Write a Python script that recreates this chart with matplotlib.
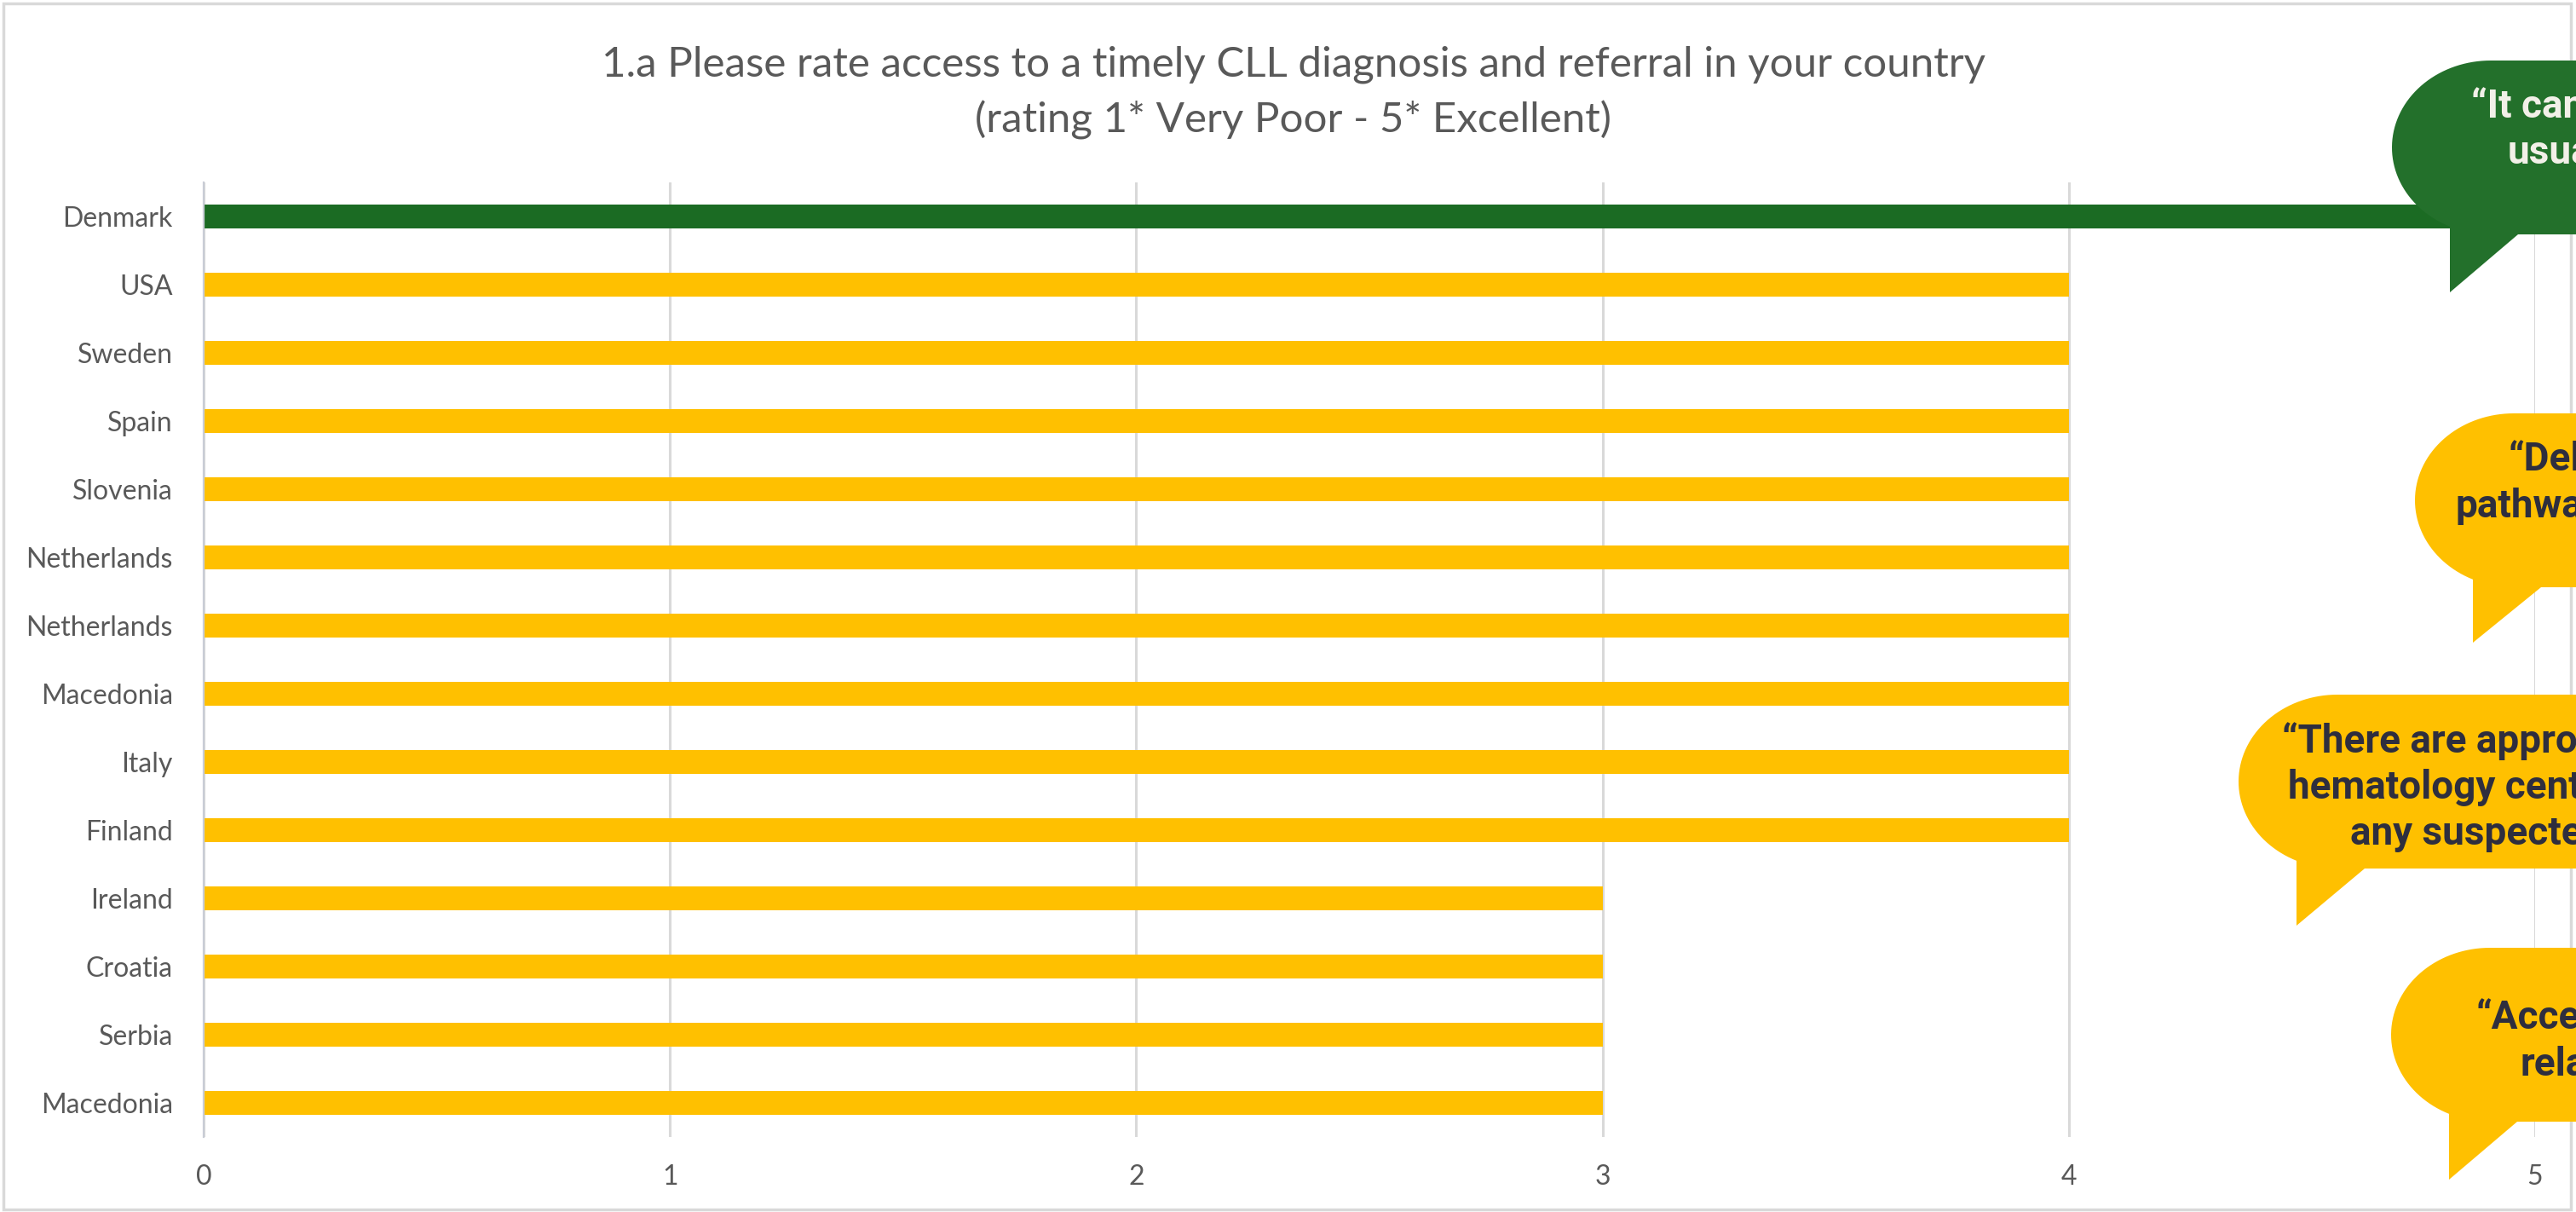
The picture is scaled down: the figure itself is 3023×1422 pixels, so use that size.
import numpy as np
import matplotlib.pyplot as plt
from matplotlib.path import Path
from matplotlib.patches import PathPatch, Rectangle

# Survey answers, top row first
countries = ["Denmark", "USA", "Sweden", "Spain", "Slovenia", "Netherlands",
             "Netherlands", "Macedonia", "Italy", "Finland", "Ireland",
             "Croatia", "Serbia", "Macedonia"]
ratings = [5, 4, 4, 4, 4, 4, 4, 4, 4, 4, 3, 3, 3, 3]
x_ticks = [0, 1, 2, 3, 4, 5]

title_text = ("1.a Please rate access to a timely CLL diagnosis and referral in your country\n"
              "(rating 1* Very Poor - 5* Excellent)")

# quotes shown in the speech bubbles (cut off by the right edge of the slide)
quote_lines = [
    ["\u201cIt can", "usua"],
    ["\u201cDel", "pathwa"],
    ["\u201cThere are appro", "hematology cent", "any suspecte"],
    ["\u201cAcce", "rela"],
]

GREEN_BAR = "#1B6B23"
GREEN = "#23702B"
GOLD = "#FFC000"
GREY = "#595959"

W, H = 3023, 1422
fig = plt.figure(figsize=(W / 100, H / 100), dpi=100)

# plot area in pixels (top-left origin)
left, right, top, bottom = 239, 2975, 214, 1334
ax = fig.add_axes([left / W, 1 - bottom / H, (right - left) / W, (bottom - top) / H])

y = np.arange(len(countries))
bar_colors = [GREEN_BAR if r == max(ratings) else GOLD for r in ratings]
ax.barh(y, ratings, height=0.36, color=bar_colors, zorder=3)

ax.set_xlim(0, 5)
ax.set_ylim(len(countries) - 0.5, -0.5)
ax.set_xticks(x_ticks)
ax.set_yticks(y)
ax.set_yticklabels(countries)
ax.tick_params(axis="both", length=0, labelsize=23, labelcolor=GREY)
ax.tick_params(axis="y", pad=26)
ax.tick_params(axis="x", pad=23)
for lab in ax.get_xticklabels() + ax.get_yticklabels():
    lab.set_family("Lato")

ax.grid(axis="x", color="#D9D9D9", lw=2.2, zorder=0)
for s in ["top", "right", "bottom"]:
    ax.spines[s].set_visible(False)
ax.spines["left"].set_color("#C9CDD6")
ax.spines["left"].set_linewidth(1.6)
ax.spines["left"].set_zorder(4)

fig.text(1518 / W, 1 - 54 / H, title_text, ha="center", va="top",
         fontsize=35.5, color=GREY, family="Lato", linespacing=1.5)

# light border round the chart area
fig.patches.append(Rectangle((0.0012, 0.002), 0.9968, 0.995, transform=fig.transFigure,
                             fill=False, ec="#D9D9D9", lw=2.5))


def bubble(cx, cy, tip_y, color, a=116, b=102):
    """Speech bubble with an oval left end, running off the right edge."""
    tail_x = cx - 48
    tail_x2 = cx + 32
    t_end = 360 - np.degrees(np.arccos((tail_x - cx) / a))
    t = np.radians(np.linspace(90, t_end, 60))
    xs = list(cx + a * np.cos(t))
    ys = list(cy - b * np.sin(t))
    xs += [tail_x, tail_x2, W + 50, W + 50, cx]
    ys += [tip_y, cy + b, cy + b, cy - b, cy - b]
    verts = [(px / W, 1 - py / H) for px, py in zip(xs, ys)]
    codes = [Path.MOVETO] + [Path.LINETO] * (len(verts) - 2) + [Path.CLOSEPOLY]
    fig.add_artist(PathPatch(Path(verts, codes), transform=fig.transFigure,
                             fc=color, ec="none", zorder=5))


def quote(lines, starts, baselines, color):
    for txt, sx, by in zip(lines, starts, baselines):
        fig.text(sx / W, 1 - by / H, txt, ha="left", va="baseline", fontsize=33,
                 fontweight="bold", family="Roboto", color=color, zorder=6)


bubble(2923, 173, 343, GREEN)
bubble(2950, 587, 754, GOLD)
bubble(2743, 917, 1086, GOLD)
bubble(2922, 1214, 1384, GOLD)

quote(quote_lines[0], [2900, 2943], [138, 192], "#F2F0E8")
quote(quote_lines[1], [2943, 2881], [552, 607], "#2E2E3E")
quote(quote_lines[2], [2678, 2685, 2758], [883, 937, 991], "#2E2E3E")
quote(quote_lines[3], [2905, 2958], [1207, 1262], "#2E2E3E")

fig.savefig("out.png", dpi=100)
